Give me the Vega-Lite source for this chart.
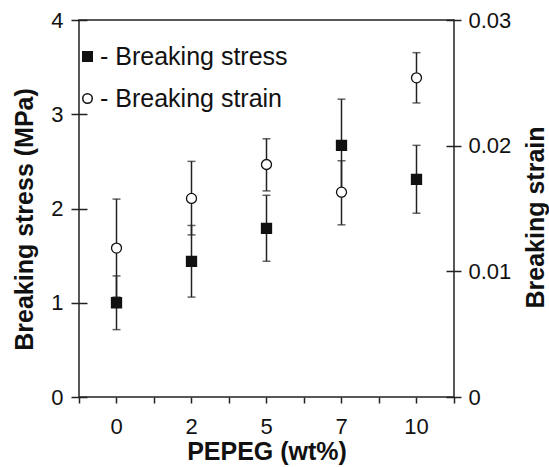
{
  "$schema": "https://vega.github.io/schema/vega-lite/v6.json",
  "autosize": {"type": "none"},
  "padding": {"left": 79, "top": 20, "right": 95, "bottom": 70},
  "width": 375,
  "height": 377,
  "background": "white",
  "config": {
    "view": {"stroke": "#222", "strokeWidth": 1.5},
    "font": "Liberation Sans",
    "axis": {
      "labelFont": "Liberation Sans",
      "labelFontSize": 22,
      "labelColor": "#111",
      "titleFont": "Liberation Sans",
      "titleFontSize": 25,
      "titleFontWeight": "bold",
      "titleColor": "#111",
      "tickColor": "#222",
      "tickWidth": 1.5,
      "domain": false,
      "grid": false
    },
    "legend": {
      "labelLimit": 400
    }
  },
  "datasets": {
    "stress": [
      {"pepeg": 0, "value": 1.0, "lo": 0.715, "hi": 1.285, "series": "Breaking stress"},
      {"pepeg": 2, "value": 1.44, "lo": 1.06, "hi": 1.82, "series": "Breaking stress"},
      {"pepeg": 5, "value": 1.79, "lo": 1.44, "hi": 2.14, "series": "Breaking stress"},
      {"pepeg": 7, "value": 2.67, "lo": 2.18, "hi": 3.16, "series": "Breaking stress"},
      {"pepeg": 10, "value": 2.31, "lo": 1.95, "hi": 2.67, "series": "Breaking stress"}
    ],
    "strain": [
      {"pepeg": 0, "value": 0.01185, "lo": 0.00795, "hi": 0.01575, "series": "Breaking strain"},
      {"pepeg": 2, "value": 0.0158, "lo": 0.0129, "hi": 0.01875, "series": "Breaking strain"},
      {"pepeg": 5, "value": 0.0185, "lo": 0.0164, "hi": 0.02055, "series": "Breaking strain"},
      {"pepeg": 7, "value": 0.0163, "lo": 0.0137, "hi": 0.0188, "series": "Breaking strain"},
      {"pepeg": 10, "value": 0.0254, "lo": 0.0234, "hi": 0.0274, "series": "Breaking strain"}
    ]
  },
  "layer": [
    {
      "data": {"name": "stress"},
      "encoding": {
        "x": {
          "field": "pepeg",
          "type": "ordinal",
          "scale": {"type": "band", "paddingInner": 0, "paddingOuter": 0},
          "axis": {
            "orient": "bottom",
            "title": "PEPEG (wt%)",
            "labelAngle": 0,
            "tickSize": 6,
            "labelPadding": 13,
            "titlePadding": 2
          }
        }
      },
      "layer": [
        {
          "mark": {"type": "rule", "color": "#222", "strokeWidth": 1.5},
          "encoding": {
            "y": {
              "field": "lo",
              "type": "quantitative",
              "scale": {"domain": [0, 4], "nice": false, "zero": true},
              "axis": {
                "orient": "left",
                "title": "Breaking stress (MPa)",
                "values": [0, 1, 2, 3, 4],
                "format": "d",
                "tickSize": 16,
                "offset": -8,
                "labelPadding": 8,
                "titlePadding": 13,
                "titleY": 199
              }
            },
            "y2": {"field": "hi"}
          }
        },
        {
          "mark": {"type": "tick", "color": "#222", "size": 8, "thickness": 1.5, "orient": "horizontal"},
          "encoding": {"y": {"field": "lo", "type": "quantitative"}}
        },
        {
          "mark": {"type": "tick", "color": "#222", "size": 8, "thickness": 1.5, "orient": "horizontal"},
          "encoding": {"y": {"field": "hi", "type": "quantitative"}}
        },
        {
          "mark": {"type": "point", "filled": false, "size": 100, "stroke": "#111", "strokeWidth": 1.3, "opacity": 1},
          "encoding": {
            "y": {"field": "value", "type": "quantitative"},
            "shape": {
              "field": "series",
              "type": "nominal",
              "scale": {"domain": ["Breaking stress", "Breaking strain"], "range": ["square", "circle"]},
              "legend": {
                "title": null,
                "orient": "none",
                "legendX": -4,
                "legendY": 24,
                "labelFont": "Liberation Sans",
                "labelFontSize": 25,
                "labelColor": "#111",
                "labelExpr": "'- ' + datum.label",
                "symbolSize": 90,
                "rowPadding": 16,
                "labelOffset": 0,
                "encode": {
                  "symbols": {"update": {"stroke": {"value": "#111"}, "strokeWidth": {"value": 1.3}, "opacity": {"value": 1}}}
                }
              }
            },
            "fill": {
              "field": "series",
              "type": "nominal",
              "scale": {"domain": ["Breaking stress", "Breaking strain"], "range": ["#111", "white"]},
              "legend": {
                "title": null,
                "orient": "none",
                "legendX": -4,
                "legendY": 24,
                "labelFont": "Liberation Sans",
                "labelFontSize": 25,
                "labelColor": "#111",
                "labelExpr": "'- ' + datum.label",
                "symbolSize": 90,
                "rowPadding": 16,
                "labelOffset": 0,
                "encode": {
                  "symbols": {"update": {"stroke": {"value": "#111"}, "strokeWidth": {"value": 1.3}, "opacity": {"value": 1}}}
                }
              }
            }
          }
        }
      ]
    },
    {
      "data": {"name": "strain"},
      "encoding": {
        "x": {
          "field": "pepeg",
          "type": "ordinal",
          "scale": {"type": "band", "paddingInner": 0, "paddingOuter": 0},
          "axis": {
            "orient": "bottom",
            "title": null,
            "labels": false,
            "tickBand": "extent",
            "tickSize": 6
          }
        }
      },
      "layer": [
        {
          "mark": {"type": "rule", "color": "#222", "strokeWidth": 1.5},
          "encoding": {
            "y": {
              "field": "lo",
              "type": "quantitative",
              "scale": {"domain": [0, 0.03], "nice": false, "zero": true},
              "axis": {
                "orient": "right",
                "title": "Breaking strain",
                "titleAngle": 270,
                "values": [0, 0.01, 0.02, 0.03],
                "format": ".2~f",
                "tickSize": 15,
                "offset": -8,
                "labelPadding": 7,
                "titlePadding": 38,
                "titleY": 197
              }
            },
            "y2": {"field": "hi"}
          }
        },
        {
          "mark": {"type": "tick", "color": "#222", "size": 8, "thickness": 1.5, "orient": "horizontal"},
          "encoding": {"y": {"field": "lo", "type": "quantitative"}}
        },
        {
          "mark": {"type": "tick", "color": "#222", "size": 8, "thickness": 1.5, "orient": "horizontal"},
          "encoding": {"y": {"field": "hi", "type": "quantitative"}}
        },
        {
          "mark": {"type": "point", "filled": false, "size": 100, "stroke": "#111", "strokeWidth": 1.3, "opacity": 1},
          "encoding": {
            "y": {"field": "value", "type": "quantitative"},
            "shape": {"field": "series", "type": "nominal"},
            "fill": {"field": "series", "type": "nominal"}
          }
        }
      ]
    }
  ],
  "resolve": {
    "scale": {"y": "independent"},
    "axis": {"y": "independent", "x": "independent"}
  }
}
